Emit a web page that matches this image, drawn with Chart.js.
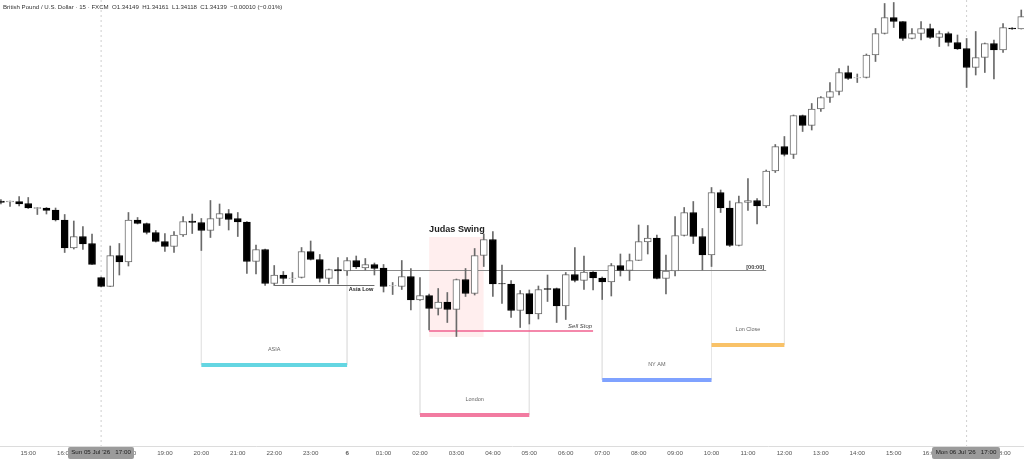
<!DOCTYPE html>
<html>
<head>
<meta charset="utf-8">
<title>GBPUSD 15m - Judas Swing</title>
<script src="https://cdn.jsdelivr.net/npm/chart.js@4"></script>
<style>
  html, body { margin: 0; padding: 0; background: #fff; overflow: hidden; }
  canvas { display: block; }
</style>
</head>
<body>
<canvas id="myChart" width="1024" height="460"></canvas>
<script>
// all prices are pipettes above 1.33000
const highs = [781,778,787,785,765,765,764,751,738,727,712,626,688,693,755,745,734,719,713,717,747,752,743,779,772,761,755,737,690,682,649,637,635,685,698,671,642,665,665,668,663,654,651,615,659,643,625,592,603,595,622,643,683,712,717,650,619,599,600,608,630,604,635,685,668,637,626,653,672,672,730,729,710,670,747,765,777,723,805,800,778,788,823,783,840,891,907,950,950,973,987,1015,1043,1048,1032,1072,1123,1173,1175,1137,1123,1137,1132,1118,1116,1110,1103,1117,1094,1100,1133,1125,1160];
const lows = [772,767,768,763,751,752,738,675,682,681,651,606,607,630,648,732,712,696,677,675,707,713,679,705,729,720,707,633,632,609,609,613,615,624,660,616,613,612,629,643,640,630,596,591,601,560,579,520,550,535,507,587,590,647,587,573,545,525,532,542,577,535,541,616,601,600,581,588,628,619,659,672,622,592,628,708,693,640,647,755,687,688,759,732,765,835,868,863,917,920,957,975,990,1021,1015,1024,1057,1112,1125,1099,1102,1100,1103,1087,1088,1081,1005,1030,1035,1022,1075,1121,1122];
const opens = [778,776,777,773,763,764,760,740,684,707,693,625,607,669,656,740,733,715,697,687,710,738,735,719,743,753,743,736,657,681,613,630,623,625,677,661,623,641,638,659,644,651,644,608,607,627,580,589,563,576,561,621,593,669,701,613,612,559,593,552,603,603,568,631,619,636,624,616,649,639,659,696,704,623,638,709,755,707,670,795,764,689,775,779,768,838,887,871,949,929,962,985,997,1035,1024,1025,1070,1113,1145,1137,1103,1113,1123,1105,1113,1095,1083,1045,1065,1093,1080,1124,1122];
const closes = [775,778,772,764,765,759,740,684,707,692,651,607,669,656,740,733,715,697,687,710,737,735,719,743,753,741,736,657,681,613,630,623,624,677,661,623,641,638,659,646,651,643,607,609,627,580,589,563,576,561,621,593,669,701,612,612,559,593,552,601,601,568,631,619,636,624,616,649,639,659,697,704,623,638,709,755,707,670,795,764,689,775,779,768,838,887,871,949,929,962,985,997,1035,1023,1025,1070,1113,1145,1137,1103,1113,1123,1105,1113,1095,1082,1045,1065,1093,1080,1125,1122,1147];

// time axis: candle number and its label
const tickCandles = [3,7,11,14,18,22,26,30,34,38,42,46,50,54,58,62,66,70,74,78,82,86,90,94,98,102,106,110];
const tickLabels = ['15:00','16:00','17:00','18:00','19:00','20:00','21:00','22:00','23:00','6','01:00','02:00','03:00','04:00','05:00','06:00','07:00','08:00','09:00','10:00','11:00','12:00','13:00','14:00','15:00','16:00','17:00','18:00'];

// sessions, drawn as a coloured line below the candles
const sessionNames = ['ASIA','London','NY AM','Lon Close'];
const sessionStart = [22,46,66,78];
const sessionEnd = [38,58,78,86];
const sessionLevel = [450,350,420,490];
const sessionColors = ['#64d6e2','#f27ba1','#7fa2ff','#f9c268'];

// marked levels
const dayOpenLevel = 639;
const asiaLowLevel = 609;
const sellStopLevel = 518;
const judasTop = 706;
const judasBottom = 506;

// crosshair stamps on the time axis
const crosshairCandles = [11,106];
const crosshairLabels = ["Sun 05 Jul '26   17:00", "Mon 06 Jul '26   17:00"];

const yMax = 1180;
const yMin = 288;
const fontName = '"Liberation Sans", sans-serif';

function lineSet(x1, y1, x2, y2, color, width, dash, order) {
  return {
    type: 'line',
    data: [{x: x1, y: y1}, {x: x2, y: y2}],
    borderColor: color,
    borderWidth: width,
    borderDash: dash || [],
    pointRadius: 0,
    order: order || 3
  };
}

const candleRows = highs.map((h, i) => i);
const wickData = candleRows.map(i => ({x: i, y: [lows[i], highs[i]]}));
const bodyData = candleRows.map(i => ({x: i, y: [opens[i], closes[i]]}));
const isDown = candleRows.map(i => closes[i] < opens[i]);

const datasets = [
  {
    type: 'bar',
    data: bodyData,
    grouped: false,
    barThickness: 7,
    borderWidth: 1,
    borderSkipped: false,
    backgroundColor: isDown.map(d => d ? '#000000' : '#ffffff'),
    borderColor: isDown.map(d => d ? '#000000' : '#6a6a6a'),
    order: 1
  },
  {
    type: 'bar',
    data: wickData,
    grouped: false,
    barThickness: 1,
    backgroundColor: '#6a6a6a',
    order: 2
  },
  // judas swing box
  {
    type: 'line',
    data: [{x: 47, y: judasTop}, {x: 53, y: judasTop}],
    borderWidth: 0,
    pointRadius: 0,
    backgroundColor: '#ffeeee',
    fill: {value: judasBottom},
    order: 5
  },
  lineSet(38, dayOpenLevel, 84, dayOpenLevel, '#8a8a8a', 1),
  lineSet(30, asiaLowLevel, 41, asiaLowLevel, '#6a6a6a', 1),
  lineSet(47, sellStopLevel, 65, sellStopLevel, '#f0608f', 1.4),
  lineSet(11, yMax, 11, yMin, '#cfcfcf', 1, [2, 3], 4),
  lineSet(106, yMax, 106, yMin, '#cfcfcf', 1, [2, 3], 4)
];

sessionNames.forEach((name, s) => {
  const a = sessionStart[s], b = sessionEnd[s];
  datasets.push(lineSet(a, lows[a], a, sessionLevel[s], '#e6e6e6', 1, null, 4));
  datasets.push(lineSet(b, lows[b], b, sessionLevel[s], '#e6e6e6', 1, null, 4));
  datasets.push(lineSet(a, sessionLevel[s], b, sessionLevel[s], sessionColors[s], 4));
});

// texts that sit on the chart
const chartTexts = {
  id: 'chartTexts',
  afterDraw(chart) {
    const ctx = chart.ctx;
    const x = chart.scales.x, y = chart.scales.y;
    ctx.save();

    function put(text, px, py, font, color, align) {
      ctx.font = font + ' ' + fontName;
      ctx.fillStyle = color;
      ctx.textAlign = align || 'center';
      ctx.textBaseline = 'middle';
      ctx.fillText(text, px, py);
    }

    put('British Pound / U.S. Dollar · 15 · FXCM  O1.34149  H1.34161  L1.34118  C1.34139  −0.00010 (−0.01%)', 3, 7, '6.1px', '#333333', 'left');
    put('Judas Swing', x.getPixelForValue(47), y.getPixelForValue(judasTop) - 8, 'bold 9.1px', '#222222', 'left');
    put('Asia Low', x.getPixelForValue(38) + 14, y.getPixelForValue(asiaLowLevel) + 4, 'bold 5.6px', '#222222');
    put('Sell Stop', x.getPixelForValue(65) - 13, y.getPixelForValue(sellStopLevel) - 5, 'italic 6px', '#444444');
    put('[00:00]', x.getPixelForValue(84) - 11, y.getPixelForValue(dayOpenLevel) - 3.5, 'bold 5.6px', '#444444');

    sessionNames.forEach((name, s) => {
      const mid = (sessionStart[s] + sessionEnd[s]) / 2;
      put(name, x.getPixelForValue(mid), y.getPixelForValue(sessionLevel[s]) - 16, '5.5px', '#666666');
    });

    crosshairCandles.forEach((c, n) => {
      const w = n === 0 ? 66 : 68;
      const boxX = n === 0 ? 68 : 932;
      ctx.fillStyle = '#9b9b9b';
      ctx.beginPath();
      ctx.roundRect(boxX, chart.chartArea.bottom + 1, w, 12, 2);
      ctx.fill();
      put(crosshairLabels[n], boxX + w / 2, chart.chartArea.bottom + 6.5, '6.2px', '#1c1c1c');
    });
    ctx.restore();
  }
};

const myChart = new Chart(document.getElementById('myChart').getContext('2d'), {
  type: 'bar',
  data: {datasets: datasets},
  plugins: [chartTexts],
  options: {
    responsive: false,
    animation: false,
    layout: {padding: 0},
    plugins: {legend: {display: false}, tooltip: {enabled: false}},
    scales: {
      x: {
        type: 'linear',
        offset: false,
        min: -0.1,
        max: 112.3,
        grid: {display: false, drawTicks: false},
        border: {color: '#dcdcdc'},
        afterFit(scale) { scale.height = 14; },
        afterBuildTicks(scale) { scale.ticks = tickCandles.map(v => ({value: v})); },
        ticks: {
          autoSkip: false,
          maxRotation: 0,
          padding: 4,
          color: '#555555',
          font: ctx => ({size: 6.2, family: 'Liberation Sans', weight: tickLabels[tickCandles.indexOf(ctx.tick && ctx.tick.value)] === '6' ? 'bold' : 'normal'}),
          callback: value => tickLabels[tickCandles.indexOf(value)]
        }
      },
      y: {
        display: false,
        min: yMin,
        max: yMax,
        grid: {display: false}
      }
    }
  }
});
</script>
</body>
</html>
